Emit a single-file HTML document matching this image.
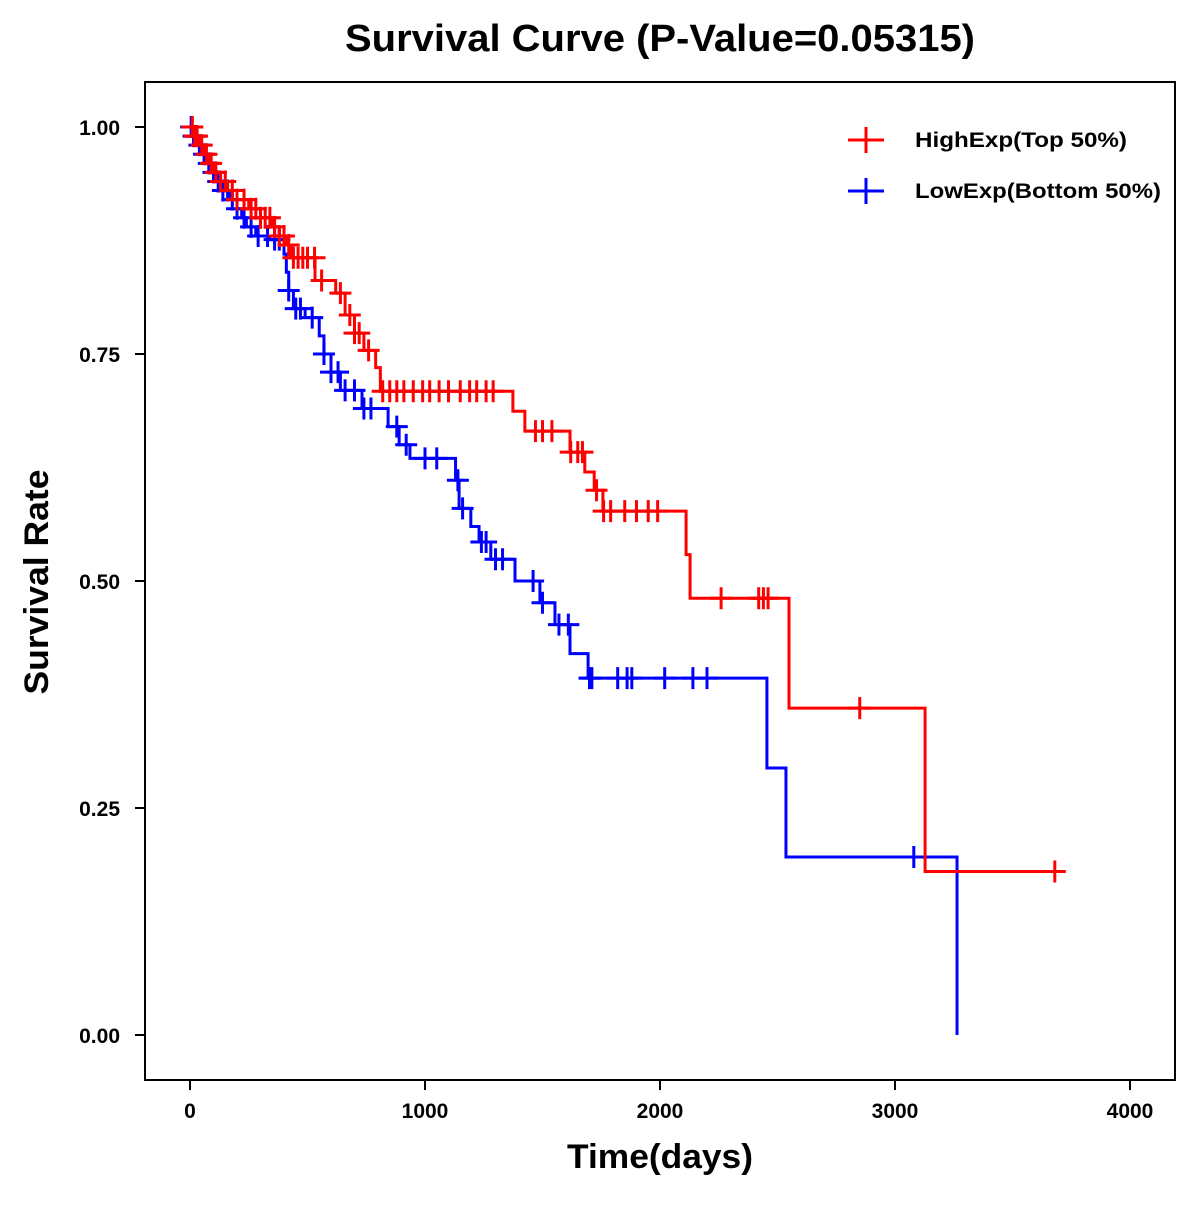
<!DOCTYPE html>
<html><head><meta charset="utf-8"><style>
body{margin:0;background:#fff}
svg text{font-family:"Liberation Sans",Arial,sans-serif;font-weight:bold;fill:#000}
</style></head><body>
<svg id="chart" width="1200" height="1200" viewBox="0 0 1200 1200">
<rect width="1200" height="1200" fill="#fff"/>
<text x="660" y="51" font-size="38" text-anchor="middle" textLength="630" lengthAdjust="spacingAndGlyphs">Survival Curve (P-Value=0.05315)</text>
<rect x="145" y="82" width="1030" height="998" fill="none" stroke="#000" stroke-width="2"/>
<g id="axes"></g>
<g id="series"></g>
<text x="660" y="1168" font-size="34" text-anchor="middle" textLength="186" lengthAdjust="spacingAndGlyphs">Time(days)</text>
<text transform="translate(48,582) rotate(-90)" font-size="34" text-anchor="middle" textLength="225" lengthAdjust="spacingAndGlyphs">Survival Rate</text>
<g>
<g>
<line x1="848" y1="140" x2="884" y2="140" stroke="#f00" stroke-width="3"/><line x1="866" y1="127" x2="866" y2="153" stroke="#f00" stroke-width="3"/>
<text x="915" y="147" font-size="21" textLength="212" lengthAdjust="spacingAndGlyphs">HighExp(Top 50%)</text></g>
<g>
<line x1="848" y1="191" x2="884" y2="191" stroke="#00f" stroke-width="3"/><line x1="866" y1="178" x2="866" y2="204" stroke="#00f" stroke-width="3"/>
<text x="915" y="198" font-size="21" textLength="246" lengthAdjust="spacingAndGlyphs">LowExp(Bottom 50%)</text></g>
</g>
</svg>
<script>
const xTicks=[0,1000,2000,3000,4000];
const yTicks=[0,0.25,0.5,0.75,1.0];
const yTickLabels=["0.00","0.25","0.50","0.75","1.00"];
const highTimes=[0,20,40,60,80,100,130,160,200,250,300,350,380,410,430,532,620,660,700,740,790,810,1374,1425,1617,1680,1720,1757,2111,2128,2549,3128];
const highSurv=[1,.99,.98,.97,.96,.95,.94,.93,.92,.91,.90,.89,.88,.87,.856,.831,.817,.793,.773,.754,.735,.709,.687,.665,.642,.62,.60,.577,.529,.481,.36,.18];
const highEnd=3723;
const highCensor=[10,20,30,50,70,90,110,130,150,180,200,230,260,280,300,320,340,360,380,400,420,440,460,480,500,530,560,640,680,700,720,760,820,850,880,910,950,990,1020,1060,1100,1150,1190,1220,1260,1290,1470,1500,1540,1620,1650,1670,1730,1760,1790,1850,1900,1950,1990,2260,2420,2440,2460,2850,3680];
const lowTimes=[0,15,30,50,70,90,110,140,170,200,220,240,280,340,400,410,420,440,490,550,570,600,640,732,843,890,936,1130,1145,1195,1230,1280,1383,1489,1553,1617,1694,2455,2536,3264];
const lowSurv=[1,.99,.98,.97,.96,.95,.94,.93,.92,.91,.90,.89,.88,.876,.86,.84,.82,.80,.79,.77,.75,.73,.71,.69,.67,.65,.635,.611,.58,.56,.543,.524,.50,.476,.452,.42,.393,.294,.196,0];
const lowEnd=3264;
const lowCensor=[5,15,25,40,60,80,100,120,140,160,180,200,230,260,290,330,360,380,420,450,470,520,570,600,630,660,700,740,770,880,920,1000,1050,1140,1160,1240,1260,1300,1330,1460,1500,1570,1610,1700,1710,1820,1860,1880,2020,2140,2200,3080];

const X=t=>190+0.235*t, Y=s=>1035-908*s;
const NS="http://www.w3.org/2000/svg";
function mk(tag,attrs,parent){const e=document.createElementNS(NS,tag);for(const k in attrs)e.setAttribute(k,attrs[k]);parent.appendChild(e);return e;}
const axes=document.getElementById('axes'), series=document.getElementById('series');
xTicks.forEach(v=>{
  const l=mk('line',{x1:X(v),x2:X(v),y1:1080,y2:1090,stroke:'#000','stroke-width':2},axes);
  
  
  const t=mk('text',{x:X(v),y:1118,'font-size':21,'text-anchor':'middle'},axes);t.textContent=v;
  
  
});
yTicks.forEach((v,i)=>{
  const l=mk('line',{x1:135,x2:145,y1:Y(v),y2:Y(v),stroke:'#000','stroke-width':2},axes);
  
  
  const t=mk('text',{x:120,y:Y(v)+8,'font-size':21,'text-anchor':'end'},axes);t.textContent=yTickLabels[i];
  
  
});
function survAt(times,surv,t){let s=surv[0];for(let i=0;i<times.length;i++){if(times[i]<=t)s=surv[i];}return s;}
function draw(times,surv,end,cens,color,name){
  let d='M'+X(times[0])+','+Y(surv[0]);
  for(let i=1;i<times.length;i++){d+=' H'+X(times[i])+' V'+Y(surv[i]);}
  d+=' H'+X(end);
  const p=mk('path',{d:d,fill:'none',stroke:color,'stroke-width':3},series);
  
  
  cens.forEach(t=>{
    const s=survAt(times,surv,t),x=X(t),y=Y(s);
    const g=mk('path',{d:`M${x-11},${y} H${x+11} M${x},${y-11} V${y+11}`,stroke:color,'stroke-width':3,fill:'none'},series);
    
    
  });
}
draw(lowTimes,lowSurv,lowEnd,lowCensor,'#00f','low-exp');
draw(highTimes,highSurv,highEnd,highCensor,'#f00','high-exp');
</script>
</body></html>
